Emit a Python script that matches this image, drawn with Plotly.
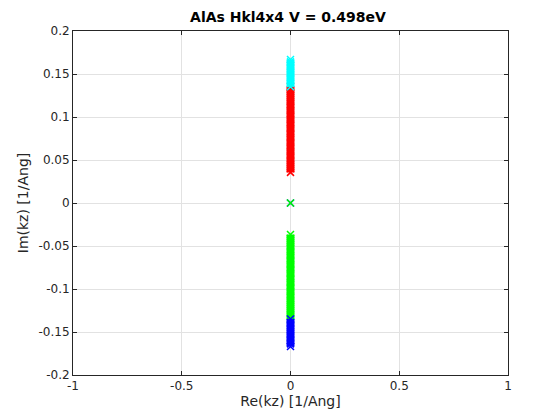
import plotly.graph_objects as go

# complex kz solutions, Im parts per band (all Re = 0)
red_im = [0.0356, 0.0402, 0.0451, 0.0497, 0.0548, 0.0601, 0.0652, 0.0706, 0.0758,
          0.0811, 0.0866, 0.0919, 0.0972, 0.1024, 0.1077, 0.1128, 0.1179, 0.1228,
          0.1274, 0.1318, 0.1352]
cyan_im = [0.1352, 0.1391, 0.1433, 0.1476, 0.1519, 0.1561, 0.1603, 0.1641, 0.1668]
green_im = [-0.0367, -0.0412, -0.0460, -0.0509, -0.0561, -0.0613, -0.0664, -0.0716,
            -0.0769, -0.0821, -0.0874, -0.0926, -0.0978, -0.1030, -0.1081, -0.1131,
            -0.1180, -0.1226, -0.1271, -0.1313, -0.1349]
blue_im = [-0.1349, -0.1388, -0.1429, -0.1472, -0.1515, -0.1558, -0.1600, -0.1638, -0.1668]
zero_im = [0.0]

xticks = [-1, -0.5, 0, 0.5, 1]
xticklabels = ["-1", "-0.5", "0", "0.5", "1"]
yticks = [-0.2, -0.15, -0.1, -0.05, 0, 0.05, 0.1, 0.15, 0.2]
yticklabels = ["-0.2", "-0.15", "-0.1", "-0.05", "0", "0.05", "0.1", "0.15", "0.2"]

fig = go.Figure()


def band(im, color, with_line=True):
    fig.add_trace(go.Scatter(
        x=[0] * len(im), y=im,
        mode='lines+markers' if with_line else 'markers',
        line=dict(color=color, width=8),
        marker=dict(symbol='x-thin', size=7, color=color,
                    line=dict(color=color, width=1.5)),
        showlegend=False, hoverinfo='skip'
    ))


band(red_im, '#ff0000')
band(green_im, '#00ff00')
band(cyan_im, '#00ffff')
band(blue_im, '#0000ff')
band(zero_im, '#0000ff', with_line=False)
band(zero_im, '#00ff00', with_line=False)

axis_common = dict(
    showgrid=True, gridcolor='#e2e2e2', gridwidth=1,
    zeroline=False, showline=True, linecolor='#262626', linewidth=1,
    mirror='ticks', ticks='inside', ticklen=4, tickcolor='#262626',
    tickfont=dict(family='DejaVu Sans', size=12, color='#262626'),
)

# page body adds an 8px offset, margins compensate for it
fig.update_layout(
    width=560, height=420,
    margin=dict(l=65, r=60, t=23, b=53),
    paper_bgcolor='white', plot_bgcolor='white',
    title=dict(text='<b>AlAs Hkl4x4 V = 0.498eV</b>', x=0.5, xanchor='center',
               y=0.978, yanchor='middle',
               font=dict(family='DejaVu Sans', size=14, color='black')),
    xaxis=dict(range=[-1, 1], tickvals=xticks, ticktext=xticklabels,
               title=dict(text='Re(kz) [1/Ang]', standoff=2,
                          font=dict(family='DejaVu Sans', size=14, color='#262626')),
               **axis_common),
    yaxis=dict(range=[-0.2, 0.2], tickvals=yticks, ticktext=yticklabels,
               title=dict(text='Im(kz) [1/Ang]', standoff=6,
                          font=dict(family='DejaVu Sans', size=14, color='#262626')),
               **axis_common),
)

fig.write_html("out.html")
